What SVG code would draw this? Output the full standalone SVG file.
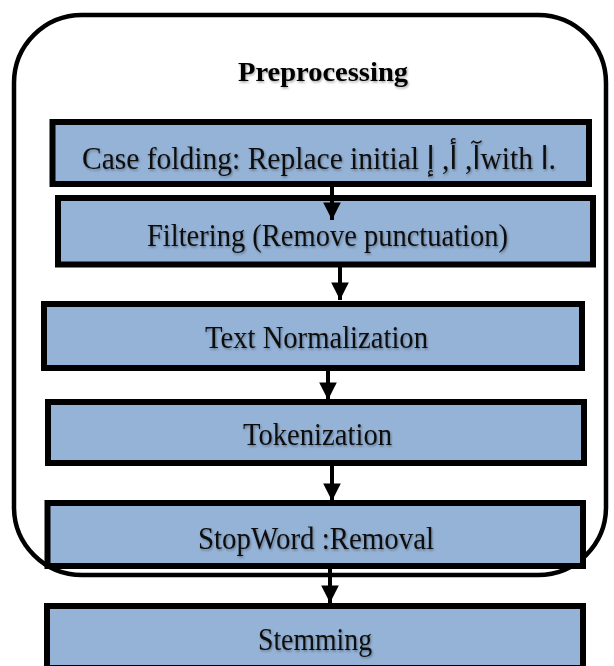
<svg xmlns="http://www.w3.org/2000/svg" width="614" height="666" viewBox="0 0 614 666">
  <defs>
    <style>
      .box { fill: #95b3d7; stroke: #000; stroke-width: 6; }
      .lbl { font-family: "Liberation Serif", "DejaVu Serif", "DejaVu Sans", serif; font-size: 31px; fill: #111; filter: url(#sh); }
      .title { font-family: "Liberation Serif", "DejaVu Serif", serif; font-size: 28px; font-weight: bold; fill: #000; filter: url(#sh); }
      .conn { stroke: #000; stroke-width: 4; fill: none; }
    </style>
    <filter id="sh" x="-5%" y="-20%" width="110%" height="140%">
      <feDropShadow dx="1" dy="1.5" stdDeviation="1" flood-color="#000" flood-opacity="0.35"/>
    </filter>
    <marker id="ah" viewBox="0 0 10 10" refX="10" refY="5" markerWidth="4.4" markerHeight="4.4" markerUnits="strokeWidth" orient="auto">
      <path d="M0,0 L10,5 L0,10 Z" fill="#000"/>
    </marker>
  </defs>

  <g id="container">
    <rect x="14" y="15" width="592" height="560" rx="68" ry="68" fill="none" stroke="#000" stroke-width="4.5"/>
    <text class="title" x="323" y="81" text-anchor="middle" textLength="170" lengthAdjust="spacingAndGlyphs">Preprocessing</text>
  </g>

  <g id="case-folding">
    <rect class="box" x="52.5" y="122" width="536.5" height="62"/>
    <text class="lbl" x="82" y="169" textLength="474" lengthAdjust="spacingAndGlyphs" style="unicode-bidi:bidi-override;direction:ltr">Case folding: Replace initial إ ,أ ,آwith ا.</text>
  </g>

  <g id="filtering">
    <rect class="box" x="58" y="198" width="535" height="66.5"/>
    <text class="lbl" x="147" y="246" textLength="361" lengthAdjust="spacingAndGlyphs">Filtering (Remove punctuation)</text>
  </g>

  <g id="text-normalization">
    <rect class="box" x="44" y="304" width="538" height="64"/>
    <text class="lbl" x="205" y="348" textLength="223" lengthAdjust="spacingAndGlyphs">Text Normalization</text>
  </g>

  <g id="tokenization">
    <rect class="box" x="48" y="402" width="536" height="61"/>
    <text class="lbl" x="243" y="445" textLength="149" lengthAdjust="spacingAndGlyphs">Tokenization</text>
  </g>

  <g id="stopword-removal">
    <rect class="box" x="47.5" y="503" width="535.5" height="63"/>
    <text class="lbl" x="198" y="549" textLength="236" lengthAdjust="spacingAndGlyphs">StopWord :Removal</text>
  </g>

  <g id="stemming">
    <rect class="box" x="47" y="606" width="536" height="62"/>
    <text class="lbl" x="258" y="650" textLength="114" lengthAdjust="spacingAndGlyphs">Stemming</text>
  </g>

  <g id="connectors">
    <line class="conn" x1="332" y1="184" x2="332" y2="220" marker-end="url(#ah)"/>
    <line class="conn" x1="340" y1="264" x2="340" y2="300" marker-end="url(#ah)"/>
    <line class="conn" x1="328" y1="368" x2="328" y2="400" marker-end="url(#ah)"/>
    <line class="conn" x1="332" y1="463" x2="332" y2="501" marker-end="url(#ah)"/>
    <line class="conn" x1="330" y1="566" x2="330" y2="603" marker-end="url(#ah)"/>
  </g>
</svg>
